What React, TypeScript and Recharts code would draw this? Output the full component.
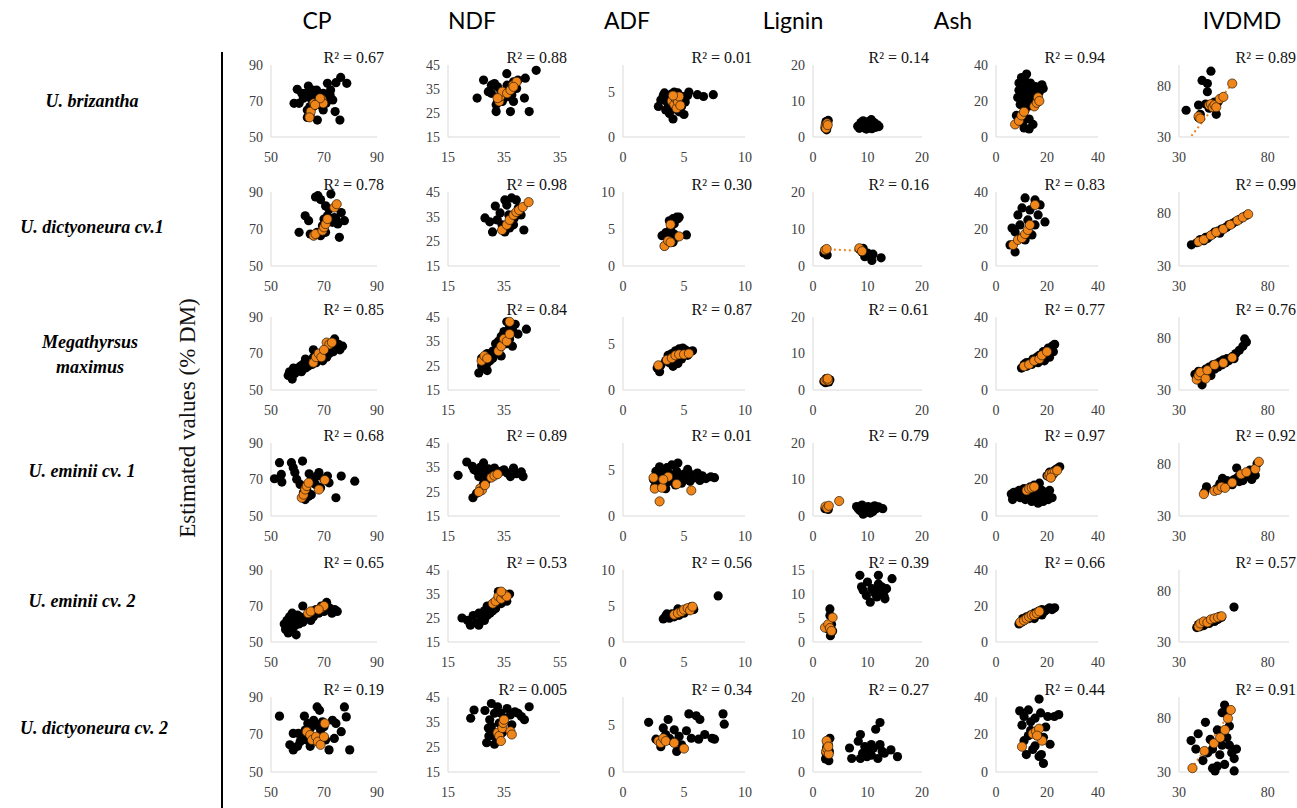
import React from 'react';
import { ScatterChart, Scatter, XAxis, YAxis, ReferenceLine } from 'recharts';

type Pt = [number, number];

const traits = ['CP', 'NDF', 'ADF', 'Lignin', 'Ash', 'IVDMD'];
const speciesLines = [
  ['U. brizantha'],
  ['U. dictyoneura cv.1'],
  ['Megathyrsus', 'maximus'],
  ['U. eminii cv. 1'],
  ['U. eminii cv. 2'],
  ['U. dictyoneura cv. 2'],
];
const rSquared = [
  ['0.67', '0.88', '0.01', '0.14', '0.94', '0.89'],
  ['0.78', '0.98', '0.30', '0.16', '0.83', '0.99'],
  ['0.85', '0.84', '0.87', '0.61', '0.77', '0.76'],
  ['0.68', '0.89', '0.01', '0.79', '0.97', '0.92'],
  ['0.65', '0.53', '0.56', '0.39', '0.66', '0.57'],
  ['0.19', '0.005', '0.34', '0.27', '0.44', '0.91'],
];

// tick values
const cpTicks = [50, 70, 90];
const ndfXTicks = [15, 35, 55];
const ndfYTicks = [15, 25, 35, 45];
const ndfXLabelsRow1 = ['15', '35', '35'];
const adfTicks = [0, 5, 10];
const ligninTicks = [0, 10, 20];
const ligninTicksRow5 = [0, 5, 10, 15];
const ashTicks = [0, 20, 40];
const ivdmdTicks = [30, 80];

// U. brizantha
const brizCpCal: Pt[] = [[58.7,68.7],[59.9,76.5],[60.6,68.7],[63.2,74.3],[63.7,60.9],[64.1,78.3],[65,71.5],[66.6,73.3],[67.2,76.1],[67.5,59.4],[68.5,67.8],[69.1,70.6],[69.7,74.3],[70.8,68.7],[71.3,79.8],[71.6,71.5],[72.3,73.3],[72.5,76.1],[73.3,70.6],[74.2,64.1],[74.5,80.2],[76,59.4],[76.3,83.1],[78.6,79.8],[66,66.9],[64.7,66.9],[63.7,65],[69.7,65],[62.2,71.5],[61.6,74.3],[65.6,76.1]];
const brizCpVal: Pt[] = [[64.7,62.2],[65,64.1],[66.2,68.7],[67.5,68.7],[68.2,69.6],[69.1,71],[69.7,68.7],[68.5,71.5],[66.6,67.8],[64.5,60.9]];
const brizNdfCal: Pt[] = [[25.4,31.2],[27.7,38.7],[29.4,33.9],[30.5,36.6],[31.6,37.3],[32.2,28.4],[32.2,25.6],[32.7,35.9],[33.3,31.8],[33.9,33.9],[34.4,29.8],[36,41.4],[36.1,36.6],[37.3,25.6],[37.8,32.5],[38.4,38],[38.4,29.8],[39.5,35.2],[40,38.7],[42.3,31.2],[42.6,39.5],[44,25.6],[46.5,42.8],[30.5,33.2],[35,31.2],[36.7,31.8],[32.7,29.8]];
const brizNdfVal: Pt[] = [[33.3,29.8],[33.6,31.8],[34.4,33.9],[36.1,33.2],[37.3,34.6],[38.2,36.6],[39.5,38],[32.7,31.2],[38.4,35.9]];
const brizAdfCal: Pt[] = [[2.9,3.4],[3.1,4.1],[3.3,4.6],[3.5,3],[3.6,3.9],[3.7,4.4],[3.8,2.6],[3.9,3.3],[4,4.8],[4,3.8],[4.1,2],[4.2,4.2],[4.3,3.1],[4.4,3.6],[4.5,4.9],[4.6,2.8],[4.7,4],[4.8,3.4],[4.9,4.5],[5,2.5],[5.1,3.9],[5.3,4.6],[5.4,5],[6.1,4.7],[6.6,4.5],[7.4,4.7],[3.4,4.9],[4.2,5]];
const brizAdfVal: Pt[] = [[4,4],[4.2,3.6],[4.3,4.3],[4.4,3.2],[4.5,3.9],[4.6,4.5],[4.1,4.6],[4.7,3.5]];
const brizLigninCal: Pt[] = [[2.2,2.5],[2.3,3.6],[2.4,4.3],[2.5,2],[2.6,3],[2.8,4.6],[8.2,3],[8.5,2.4],[8.8,4],[9,3.3],[9.3,2.6],[9.5,3.8],[9.8,2.2],[10,3.1],[10.2,4.3],[10.4,2.8],[10.6,3.6],[10.8,2.3],[11,3.2],[11.2,4],[11.5,2.7],[11.8,3.4],[12.1,2.9],[9.2,4.5],[10.7,4.8]];
const brizLigninVal: Pt[] = [[2.3,3.2],[2.5,2.8],[2.6,3.8],[2.4,2.4],[2.7,3.3]];
const brizAshCal: Pt[] = [[8,12],[8.5,22],[9,26],[9,30],[9.5,18],[10,24],[10,33],[10.5,8],[10.5,28],[11,20],[11,14],[11.5,25],[11.5,31],[12,22],[12,35],[12.5,17],[12.5,27],[13,10],[13,24],[13.5,30],[14,19],[14,26],[14.5,7],[15,23],[15.5,28],[16,20],[17,25],[18,29],[18.5,27],[11,5],[13,4.5],[9,10]];
const brizAshVal: Pt[] = [[7.5,7],[9,9],[10,12],[11,14],[15,17],[16,19],[16.5,22],[17,20]];
const brizIvdmdCal: Pt[] = [[34,56],[41,61],[42,52],[43,85],[46,82],[46,74],[48,94],[49,61],[50,64],[51,52],[52,64],[41,49],[45,62],[47,58]];
const brizIvdmdVal: Pt[] = [[41,50],[42,48],[47,61],[48,62],[49,59],[50,61],[51,59],[53,67],[55,69],[60,82]];

// U. dictyoneura cv.1
const dic1CpCal: Pt[] = [[60.6,68.2],[62.9,77.1],[64.2,74.5],[64.8,67.3],[66.1,66.4],[66.8,87.3],[67.7,88],[68.7,85.9],[69.4,71.8],[70,75.4],[70.6,82.5],[71.9,80.7],[72.6,88.9],[73.2,73.6],[73.9,76.2],[74.5,75.4],[75.2,72.7],[75.8,65.5],[76.5,78.9],[77.7,74.5],[70.6,68.2],[68.7,66.4],[67.4,68.2],[71.3,77.1]];
const dic1CpVal: Pt[] = [[66.1,66.4],[66.8,67.3],[69.4,69.1],[70,70.9],[70.6,72.7],[71.3,75.4],[73.9,81.6],[74.8,83.4]];
const dic1NdfCal: Pt[] = [[28.2,34.5],[29.9,32.9],[31.9,39.3],[33.6,36.5],[34.3,31.7],[36,39.7],[36.7,35.7],[37.7,42.6],[38.4,31.7],[40.1,38.5],[41.1,35.7],[42.1,29.6],[38.7,34.5],[35.3,28.8],[30.9,28.8],[32.6,33.7],[37,30.4],[39.4,41.8],[35.3,41.8]];
const dic1NdfVal: Pt[] = [[34.3,29.6],[36,31.7],[37,33.7],[38.4,35.7],[39.4,36.9],[40.4,37.7],[41.7,38.9],[43.8,40.9]];
const dic1AdfCal: Pt[] = [[3.2,4.1],[3.4,2.7],[3.5,4.5],[3.8,6.1],[3.9,4.1],[4.1,6.4],[4.2,5.7],[4.4,6.6],[4.5,6.4],[4.6,6.6],[4.1,3.2],[4.2,4.3],[4.4,3.9],[5.2,4.2],[3.9,5],[3.7,3.2]];
const dic1AdfVal: Pt[] = [[3.4,2.7],[3.7,3.4],[3.9,3.2],[3.9,5.6],[4.6,4]];
const dic1LigninCal: Pt[] = [[2,3.5],[2.3,4.2],[2.6,3],[8.5,4.6],[9,3.8],[9.5,2.5],[10,3.5],[10.5,2.8],[11,3.2],[9.2,4.8],[12.5,2.2],[10.8,1.5]];
const dic1LigninVal: Pt[] = [[2.2,4.3],[2.5,4.6],[8.5,4.8],[9,4]];
const dic1AshCal: Pt[] = [[5.5,11.4],[7.5,18.4],[8.6,27.6],[9.4,22.2],[10.2,31.4],[11.4,14.1],[11.4,36.8],[12.5,24.9],[13.3,30.3],[14.1,16.8],[15.3,35.7],[15.3,22.2],[16.5,27.6],[17.3,33],[19.2,23.8],[7.5,7.6],[9.4,15.1],[6.3,20.5]];
const dic1AshVal: Pt[] = [[6.7,11.4],[8.6,14.1],[10.2,15.1],[11.4,17.3],[12.5,19.5],[13.3,22.2],[15.3,33]];
const dic1IvdmdCal: Pt[] = [[37,50],[40,52],[42,55],[44,54],[45,57],[47,58],[49,60],[50,62],[52,63],[54,65],[56,66],[58,69],[60,70],[62,72],[64,74],[66,76],[68,78],[46,56],[53,61],[57,67]];
const dic1IvdmdVal: Pt[] = [[41,53],[44,55],[48,59],[51,62],[55,65],[59,69],[63,73],[66,76],[69,79]];

// Megathyrsus maximus
const maxiCpCal: Pt[] = [[56.5,58],[57,60],[58,56],[58.5,62],[59,59],[60,61],[61,63],[61.5,60],[62,64],[63,62],[63.5,65],[64,63],[65,66],[65.5,64],[66,68],[67,65],[67.5,70],[68,67],[69,69],[69.5,66],[70,71],[71,68],[71.5,72],[72,70],[73,74],[73.5,71],[74,76],[75,73],[75.5,75],[76,72],[77,74],[74,78],[66,72],[63,67]];
const maxiCpVal: Pt[] = [[66,65],[67,68],[68,70],[69,68],[71,76],[72,75],[73,76],[70,72]];
const maxiNdfCal: Pt[] = [[26,22],[27,25],[27,28],[28,24],[28,27],[29,26],[29,30],[30,27],[30,29],[31,28],[31,31],[32,30],[32,34],[33,32],[33,35],[34,33],[34,37],[35,35],[35,39],[36,34],[36,38],[37,41],[37,36],[38,40],[38,33],[39,42],[40,38],[36,43],[34,29],[29,23],[43,40]];
const maxiNdfVal: Pt[] = [[27,27],[28,29],[29,28],[33,31],[34,33],[35,36],[36,35],[37,38],[37,43]];
const maxiAdfCal: Pt[] = [[2.8,2.4],[3,2],[3.1,2.7],[3.5,3.2],[3.7,3.8],[3.9,3.4],[4,4],[4.2,3],[4.3,4.3],[4.4,3.7],[4.5,2.9],[4.6,4.5],[4.7,3.9],[4.8,3.4],[4.9,4.6],[5,4.1],[5.1,4.4],[5.3,3.8],[5.5,4.2],[5.7,4.3],[4.1,2.6],[3.8,3]];
const maxiAdfVal: Pt[] = [[2.9,2.7],[3.6,3.3],[4,3.5],[4.3,3.8],[4.6,3.9],[5,3.9],[5.4,4]];
const maxiLigninCal: Pt[] = [[2,2.3],[2.3,2],[2.6,2.4],[2.9,2.2],[3.1,2.8],[2.4,3.1]];
const maxiLigninVal: Pt[] = [[2.2,2.6],[2.5,2.9],[2.8,2.6],[2.7,3.1]];
const maxiAshCal: Pt[] = [[10,12],[11,14],[12,13],[13,15],[14,14],[14.5,17],[15,16],[16,18],[16.5,15],[17,19],[18,17],[18.5,21],[19,19],[20,20],[20.5,23],[21,22],[22,24],[22.5,21],[23,25],[21,18],[19,16],[12,15]];
const maxiAshVal: Pt[] = [[11,13],[13,14],[15,16],[17,17],[18,19],[20,21]];
const maxiIvdmdCal: Pt[] = [[39,45],[40,42],[41,48],[42,40],[43,47],[44,44],[45,50],[46,46],[47,52],[48,48],[49,54],[50,50],[51,55],[52,52],[53,57],[54,54],[55,59],[56,56],[57,60],[58,58],[60,62],[61,60],[62,65],[64,68],[66,72],[67,79],[68,76],[43,35],[48,44]];
const maxiIvdmdVal: Pt[] = [[40,40],[41,44],[42,47],[45,41],[46,49],[50,54],[55,56],[60,61]];

// U. eminii cv. 1
const emi1CpCal: Pt[] = [[51.3,70.4],[53.2,79.2],[53.9,72.8],[54.1,68.6],[57.7,79.2],[58.4,76.5],[59,73.8],[59.7,70.1],[61.9,80.1],[62.3,63],[62.9,59],[64.2,60.8],[64.4,73.1],[65.5,70.9],[66.1,69.1],[66.8,67.3],[67.4,71.9],[68.1,73.8],[68.7,65.5],[70,70.1],[71.3,71.9],[71.9,68.2],[74.5,60],[76.5,71.9],[81.6,69.1],[61,67.3],[63.5,64.5],[65.2,61.7]];
const emi1CpVal: Pt[] = [[61.6,60],[62.3,61.7],[62.9,64.5],[63.5,66.4],[64.2,68.2],[68.1,64.5],[70.3,69.7]];
const emi1NdfCal: Pt[] = [[18.6,31.7],[21.7,37.2],[23.7,35.4],[24.3,34],[25.4,33.3],[26,31.2],[26.5,35],[27.1,33.3],[27.7,36.8],[28.2,32.4],[29.4,34.4],[30.5,33.3],[31.6,34.7],[32.7,32.4],[33.9,33.3],[35,34],[36.1,32.7],[37.3,31.2],[38.4,34.7],[39.5,32.4],[41.2,33.1],[41.8,31.2],[23.9,22.5],[25.2,24.3],[26.6,26.3],[27.7,28.4],[28.8,29.8]];
const emi1NdfVal: Pt[] = [[26.5,26.3],[27.1,25.6],[26,24.9],[28.2,27.7],[30.5,30.8],[31.6,31.6],[32.7,32.2]];
const emi1AdfCal: Pt[] = [[2.5,4],[2.6,3.2],[2.8,4.6],[3,3.6],[3.2,5],[3.4,4.2],[3.5,3],[3.7,4.8],[3.8,3.8],[4,5.6],[4.1,4.4],[4.3,3.4],[4.4,4.9],[4.6,4.1],[4.8,3.6],[5,4.6],[5.2,4],[5.3,5.1],[5.5,3.8],[5.7,4.5],[5.9,4.2],[6.1,4.7],[6.3,3.9],[6.5,4.4],[6.8,4.1],[7.2,4.3],[7.5,4.2],[3,5.4],[4.5,5.8],[3.6,5.3],[2.7,4.9]];
const emi1AdfVal: Pt[] = [[2.5,4.2],[2.6,3],[3,1.6],[3.2,3.1],[3.7,4.3],[4.4,3.5],[5.6,2.8],[3.3,4]];
const emi1LigninCal: Pt[] = [[2.2,2],[2.5,2.4],[2.8,1.8],[8,2.6],[8.3,2],[8.6,1.5],[8.9,2.8],[9.2,0.5],[9.5,2.2],[9.8,1.6],[10.1,2.6],[10.4,1.8],[10.7,2.4],[11,1.2],[11.3,2.8],[11.6,2],[12,2.5],[12.8,2],[9,3],[10.5,0.8]];
const emi1LigninVal: Pt[] = [[2.3,2.6],[2.6,2.2],[2.9,2.8],[4.8,4.1]];
const emi1AshCal: Pt[] = [[6,12],[6.5,9],[7,13],[8,11],[9,14],[9.5,10],[10,12],[11,15],[11.5,9],[12,13],[13,11],[13.5,16],[14,8],[14.5,12],[15,17],[15.5,10],[16,13],[16.5,7],[17,11],[17.5,9],[18,14],[18.5,8],[19,12],[19.5,10],[20,22],[20.5,9],[21,24],[21.5,21],[22,10],[22.5,23],[23,25],[24,26],[25,27],[21,14],[17,18]];
const emi1AshVal: Pt[] = [[12,14],[13,15],[14,15.5],[15,16],[20.5,22],[21,23],[22,23.5],[23,24],[24,25],[21.5,21]];
const emi1IvdmdCal: Pt[] = [[44.5,53],[45.5,58],[51,56],[53,61],[54.5,66],[56,59],[58,61],[59.5,63],[61,65],[62.5,76],[64,63],[65,67],[67,69],[68.5,71],[70,74],[71,65],[73,69],[74,80],[57,64],[60,60],[63,67],[66,64],[69,68]];
const emi1IvdmdVal: Pt[] = [[44,51],[50,54],[52,55],[54,58],[56,57],[60,62],[65,70],[68,72],[73,75],[75,82]];

// U. eminii cv. 2
const emi2CpCal: Pt[] = [[55,60],[55.5,57],[56,62],[56,58],[56.5,55],[57,60],[57,64],[57.5,58],[58,61],[58,56],[58.5,63],[59,59],[59.5,54],[60,62],[60.5,60],[61,64],[62,70],[62,61],[63,63],[64,65],[65,62],[65.5,67],[66,64],[67,68],[68,66],[69,70],[70,67],[71,72],[72,69],[73,66],[74,68],[75,67],[60,65],[58,66]];
const emi2CpVal: Pt[] = [[64,66],[65,67],[69,69],[70,70],[68,68]];
const emi2NdfCal: Pt[] = [[20,25],[22,24],[23,22],[24,26],[25,23],[26,27],[27,25],[28,28],[28,24],[29,30],[30,27],[31,31],[32,29],[33,33],[33,36],[34,31],[35,34],[36,32],[37,35],[26,22],[29,26],[31,28]];
const emi2NdfVal: Pt[] = [[31,31],[32,32],[33,34],[34,33],[35,35],[36,34],[34,36]];
const emi2AdfCal: Pt[] = [[3.3,3.2],[3.5,3.6],[3.8,3.3],[4,3.9],[4.2,3.5],[4.4,4.1],[4.6,3.7],[4.8,4.3],[5,4],[5.2,4.6],[5.4,4.4],[5.6,4.9],[5.8,4.5],[7.8,6.4],[4.5,4.6],[3.6,3.9]];
const emi2AdfVal: Pt[] = [[4.2,3.8],[4.5,4],[4.8,4.2],[5,4.5],[5.3,4.7],[5.5,4.4],[5.7,4.9]];
const emi2LigninCal: Pt[] = [[8.6,13.9],[8.9,11.5],[10,12.5],[10.5,8.3],[10.8,11.1],[11.4,10.1],[11.7,9.4],[12,12.1],[12,13.9],[12.3,10.8],[13,9.7],[13.2,9],[13.5,11.1],[14.5,13.2],[9.2,10.8],[9.8,9.7],[11.1,10.8],[12.6,11.5],[3.1,6.9],[3.1,5.5],[3.4,3.7],[3.6,2.3],[3.2,1.3],[2.8,2.7]];
const emi2LigninVal: Pt[] = [[2.2,3],[2.8,3.7],[3.1,2.9],[3.6,5.1],[3.4,2.3]];
const emi2AshCal: Pt[] = [[9,10],[10,11],[10.5,13],[11,12],[12,14],[13,13],[13.5,15],[14,14],[15,16],[16,15],[16.5,17],[17,16],[18,18],[19,17],[20,18],[21,19],[22,18],[23,19],[15,13],[18,15]];
const emi2AshVal: Pt[] = [[9.5,11],[11,12],[12,13],[13,14],[14,15],[15,15],[16,16],[17,17]];
const emi2IvdmdCal: Pt[] = [[40,44],[41,47],[42,45],[43,48],[44,46],[45,49],[46,50],[47,48],[48,51],[49,52],[50,50],[51,53],[52,52],[53,55],[54,54],[61,64]];
const emi2IvdmdVal: Pt[] = [[41,45],[42,48],[44,50],[46,49],[48,52],[50,53],[52,54],[54,55]];

// U. dictyoneura cv. 2
const dic2CpCal: Pt[] = [[53.2,79.8],[57.1,64.5],[58.4,70.6],[58.4,61.8],[60.3,70.6],[61,66.2],[62.6,79.8],[62.9,72.4],[63.9,75.9],[64.8,73.2],[66.1,77.6],[67,75],[67.4,84.7],[68.3,82.9],[68.7,72.4],[69.4,76.8],[70.6,67.1],[71.9,61.8],[73.2,77.6],[73.9,67.9],[76.5,71.5],[77.7,84.7],[78.4,79.4],[79.7,61.8],[63.5,67.1],[64.8,63.7],[62.3,67.9],[70,74.1],[74.5,75.9],[60,63.7]];
const dic2CpVal: Pt[] = [[63.5,71.5],[64.8,69.7],[65.5,67.1],[67,68.8],[67.7,66.2],[68.7,64.5],[70.3,75.9],[70,68.8]];
const dic2NdfCal: Pt[] = [[23.1,36.5],[24.3,39.8],[28.2,39.6],[28.8,26.7],[29.4,32.6],[29.9,35.9],[30.5,42.4],[30.7,31.3],[31.6,38.5],[32.2,28.7],[32.7,41.1],[33.3,34.6],[33.9,38.5],[34.4,30.7],[35,36.5],[36.1,40.4],[37.3,37.8],[37.8,33.9],[38.9,39.1],[40,38.5],[41.2,37.2],[42.3,35.9],[44,41.1],[31.6,26.1],[29.6,29.4],[30.5,33.3]];
const dic2NdfVal: Pt[] = [[32.7,30.7],[33.3,29.4],[33.9,27.4],[34.4,32.6],[34.7,34.6],[37.3,31.3],[37.8,30],[35,35.9]];
const dic2AdfCal: Pt[] = [[2.1,5.3],[2.7,3.5],[3.3,4.7],[3.5,4],[4,3.3],[4.2,4.5],[4.4,2.2],[4.6,3.8],[4.8,2.9],[5.2,4.4],[5.4,6.2],[5.6,3.6],[6,6],[6.2,3.5],[6.3,5.6],[6.7,4],[7.3,3.6],[7.5,3.5],[8.2,6.2],[8.3,5.1],[3.1,2.7],[3.7,5.6],[3.8,3.6]];
const dic2AdfVal: Pt[] = [[2.9,3.3],[3.1,3.1],[3.3,3.6],[3.5,3.3],[4.2,3.1],[5,2.5]];
const dic2LigninCal: Pt[] = [[2.3,3.5],[2.4,5],[2.5,6.5],[2.6,8],[2.7,4.2],[2.8,7.2],[3,5.5],[3.1,9],[2.9,3],[6.7,6.4],[7.1,3.6],[8.3,8.2],[8.7,3.6],[9.1,5],[9.5,6.8],[9.9,4.1],[10.3,5.9],[10.7,4.5],[11.1,6.4],[11.5,11.4],[11.9,3.6],[12.3,7.3],[12.7,5.5],[13.1,5],[14.3,5.9],[15.5,4.1],[8.7,10],[12.3,13.2],[10.7,7.3]];
const dic2LigninVal: Pt[] = [[2.4,5.5],[2.6,6.2],[2.7,7.5],[2.9,4.8],[2.5,8.3],[2.8,6.8]];
const dic2AshCal: Pt[] = [[9.3,32.6],[10.2,25],[11,16.7],[11.9,9.3],[12.7,33.1],[13.6,22.2],[14.4,12],[15.3,28.7],[16.1,19.4],[16.9,38.9],[17.5,31.5],[17.8,9.3],[18.6,4.6],[19.5,24],[20.3,29.6],[21.2,14.8],[22.9,29.6],[24.6,30.6],[12.7,19.4],[15.3,13.9],[11,29.6],[18.6,18.5],[16.9,8.3],[13.6,26.8]];
const dic2AshVal: Pt[] = [[10.2,13.5],[14.4,20.4],[15.7,21.7],[16.9,23.1],[18.1,16.7],[16.1,19.4]];
const dic2IvdmdCal: Pt[] = [[36.8,59.3],[39.5,51.4],[43.5,40.7],[44.9,76.4],[47.6,60.4],[48.9,51.4],[50.3,31],[51.6,69.3],[53,46.1],[54.3,85.4],[55.7,92.5],[55.7,37.1],[57,62.1],[58.4,55],[59.7,47.9],[61.1,31],[62.4,51.4],[40.8,65.7],[46.2,47.9],[51.6,35.4],[57,87.1],[58.4,72.9],[61.1,42.5],[54.3,55],[48.9,33.6]];
const dic2IvdmdVal: Pt[] = [[37.6,33.6],[44.3,49.6],[49.7,56.8],[53.2,62.1],[55.9,69.3],[57.6,80],[59.2,87.9]];

// fitted lines drawn as orange dots
const brizAshTrend: Pt[] = [[7, 6], [17, 20]];
const brizIvdmdTrend: Pt[] = [[37, 31], [60, 82]];
const dic1LigninTrend: Pt[] = [[2, 4.6], [9.5, 4.0]];
const emi1IvdmdTrend: Pt[] = [[44, 51], [75, 81]];
const dic2IvdmdTrend: Pt[] = [[37, 33], [60, 88]];

const calGrid = [
  [brizCpCal, brizNdfCal, brizAdfCal, brizLigninCal, brizAshCal, brizIvdmdCal],
  [dic1CpCal, dic1NdfCal, dic1AdfCal, dic1LigninCal, dic1AshCal, dic1IvdmdCal],
  [maxiCpCal, maxiNdfCal, maxiAdfCal, maxiLigninCal, maxiAshCal, maxiIvdmdCal],
  [emi1CpCal, emi1NdfCal, emi1AdfCal, emi1LigninCal, emi1AshCal, emi1IvdmdCal],
  [emi2CpCal, emi2NdfCal, emi2AdfCal, emi2LigninCal, emi2AshCal, emi2IvdmdCal],
  [dic2CpCal, dic2NdfCal, dic2AdfCal, dic2LigninCal, dic2AshCal, dic2IvdmdCal],
];
const valGrid = [
  [brizCpVal, brizNdfVal, brizAdfVal, brizLigninVal, brizAshVal, brizIvdmdVal],
  [dic1CpVal, dic1NdfVal, dic1AdfVal, dic1LigninVal, dic1AshVal, dic1IvdmdVal],
  [maxiCpVal, maxiNdfVal, maxiAdfVal, maxiLigninVal, maxiAshVal, maxiIvdmdVal],
  [emi1CpVal, emi1NdfVal, emi1AdfVal, emi1LigninVal, emi1AshVal, emi1IvdmdVal],
  [emi2CpVal, emi2NdfVal, emi2AdfVal, emi2LigninVal, emi2AshVal, emi2IvdmdVal],
  [dic2CpVal, dic2NdfVal, dic2AdfVal, dic2LigninVal, dic2AshVal, dic2IvdmdVal],
];
const trends: Record<string, Pt[]> = {
  '0-4': brizAshTrend,
  '0-5': brizIvdmdTrend,
  '1-3': dic1LigninTrend,
  '3-5': emi1IvdmdTrend,
  '5-5': dic2IvdmdTrend,
};

// layout
const rowTop = [65, 192, 317, 443, 570, 697];
const rowBottom = [137, 266, 390, 516, 642, 772];
const colAxisX = [271, 448, 623, 813, 996, 1179];
const colPlotW = [106, 112, 122, 109, 102, 110];
const headerX = [317, 472, 627, 793, 953, 1242];
const labelX = [92, 92, 90, 82, 82, 94];
const labelY = [101, 227, 355, 471, 601, 728];

const Y_W = 30;
const X_H = 30;
const PAD_T = 14;
const PAD_R = 12;
const ORANGE = '#F0861A';
const SERIF = '"Liberation Serif", "Times New Roman", serif';

const tickStyle = { fontSize: 14, fill: '#404040', fontFamily: SERIF };

function axisFor(row: number, col: number) {
  switch (col) {
    case 0:
      return { xd: [50, 90], xt: cpTicks, yd: [50, 90], yt: cpTicks };
    case 1:
      return {
        xd: [15, 55],
        xt: row === 0 || row === 4 ? ndfXTicks : ndfXTicks.slice(0, 2),
        xl: row === 0 ? ndfXLabelsRow1 : undefined,
        yd: [15, 45],
        yt: ndfYTicks,
      };
    case 2: {
      const tall = row === 1 || row === 4;
      return { xd: [0, 10], xt: adfTicks, yd: tall ? [0, 10] : [0, 8], yt: tall ? adfTicks : adfTicks.slice(0, 2) };
    }
    case 3:
      return {
        xd: [0, 20],
        xt: row === 2 ? [0, 20] : ligninTicks,
        yd: row === 4 ? [0, 15] : [0, 20],
        yt: row === 4 ? ligninTicksRow5 : ligninTicks,
      };
    case 4:
      return { xd: [0, 40], xt: ashTicks, yd: [0, 40], yt: ashTicks };
    default:
      return { xd: [30, 92], xt: ivdmdTicks, yd: [30, 100], yt: ivdmdTicks };
  }
}

const blackDot = (p: any) => <circle cx={p.cx} cy={p.cy} r={4.6} fill="#000" />;
const orangeDot = (p: any) => (
  <circle cx={p.cx} cy={p.cy} r={4.6} fill={ORANGE} stroke="#2a1a08" strokeWidth={0.7} />
);

const toXY = (pts: Pt[]) => pts.map(([x, y]) => ({ x, y }));

const Panel: React.FC<{ row: number; col: number }> = ({ row, col }) => {
  const ax = axisFor(row, col);
  const plotH = rowBottom[row] - rowTop[row];
  const trend = trends[`${row}-${col}`];
  const labels = ax.xl;
  return (
    <div style={{ position: 'absolute', left: colAxisX[col] - Y_W, top: rowTop[row] - PAD_T }}>
      <ScatterChart
        width={Y_W + colPlotW[col] + PAD_R}
        height={PAD_T + plotH + X_H}
        margin={{ top: PAD_T, right: PAD_R, left: 0, bottom: 0 }}
      >
        <XAxis
          type="number"
          dataKey="x"
          domain={ax.xd}
          ticks={ax.xt}
          interval={0}
          height={X_H}
          tickLine={false}
          tickMargin={9}
          axisLine={{ stroke: '#d9d9d9' }}
          tick={tickStyle}
          tickFormatter={(v: number, i: number) => (labels ? labels[i] : String(v))}
        />
        <YAxis
          type="number"
          dataKey="y"
          domain={ax.yd}
          ticks={ax.yt}
          interval={0}
          width={Y_W}
          tickLine={false}
          axisLine={{ stroke: '#d9d9d9' }}
          tick={tickStyle}
        />
        <Scatter data={toXY(calGrid[row][col])} shape={blackDot} isAnimationActive={false} />
        <Scatter data={toXY(valGrid[row][col])} shape={orangeDot} isAnimationActive={false} />
        {trend && (
          <ReferenceLine
            segment={[
              { x: trend[0][0], y: trend[0][1] },
              { x: trend[1][0], y: trend[1][1] },
            ]}
            stroke={ORANGE}
            strokeWidth={2}
            strokeDasharray="2 3"
          />
        )}
      </ScatterChart>
      <div
        style={{
          position: 'absolute',
          left: Y_W + colPlotW[col] + 7 - 120,
          top: PAD_T - 17,
          width: 120,
          textAlign: 'right',
          fontFamily: SERIF,
          fontSize: 16,
          lineHeight: '20px',
          color: '#111',
          whiteSpace: 'nowrap',
        }}
      >
        R² = {rSquared[row][col]}
      </div>
    </div>
  );
};

export default function App() {
  return (
    <div style={{ position: 'absolute', left: 0, top: 0, width: 1297, height: 808, background: '#fff', overflow: 'hidden' }}>
      {traits.map((t, c) => (
        <div
          key={t}
          style={{
            position: 'absolute',
            left: headerX[c] - 60,
            top: 6,
            width: 120,
            textAlign: 'center',
            fontFamily: 'Lato, "Liberation Sans", sans-serif',
            fontSize: 23,
            lineHeight: '28px',
            color: '#000',
          }}
        >
          {t}
        </div>
      ))}
      {speciesLines.map((lines, r) => (
        <div
          key={r}
          style={{
            position: 'absolute',
            left: labelX[r] - 100,
            top: labelY[r] - lines.length * 12.5,
            width: 200,
            textAlign: 'center',
            fontFamily: SERIF,
            fontWeight: 'bold',
            fontStyle: 'italic',
            fontSize: 18,
            lineHeight: '25px',
            color: '#000',
          }}
        >
          {lines.map((l) => (
            <div key={l}>{l}</div>
          ))}
        </div>
      ))}
      <div
        style={{
          position: 'absolute',
          left: 188 - 150,
          top: 418 - 15,
          width: 300,
          height: 30,
          lineHeight: '30px',
          textAlign: 'center',
          fontFamily: SERIF,
          fontSize: 23,
          color: '#111',
          transform: 'rotate(-90deg)',
        }}
      >
        Estimated values (% DM)
      </div>
      <div style={{ position: 'absolute', left: 221, top: 52, width: 2, height: 756, background: '#000' }} />
      {rSquared.map((rowVals, r) =>
        rowVals.map((_, c) => <Panel key={`${r}-${c}`} row={r} col={c} />)
      )}
    </div>
  );
}
